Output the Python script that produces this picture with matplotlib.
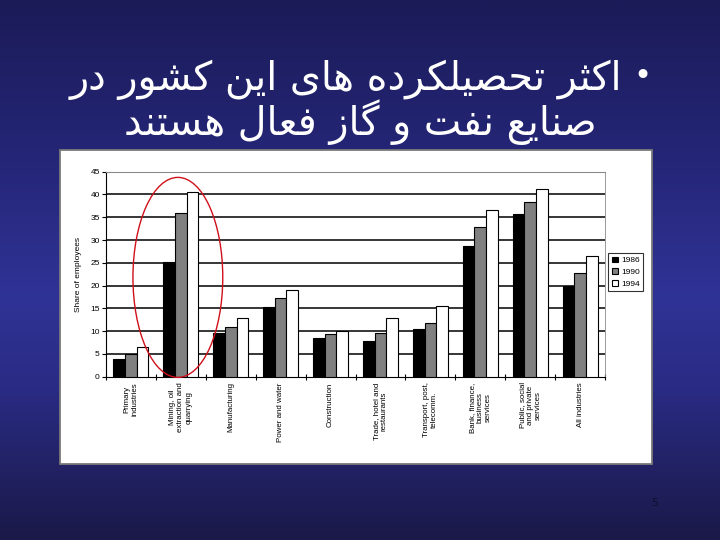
import numpy as np
import matplotlib.pyplot as plt
from matplotlib.patches import Rectangle, Ellipse

# داده‌ها
categories = [
    "Primary\nindustries",
    "Mining, oil\nextraction and\nquarrying",
    "Manufacturing",
    "Power and water",
    "Construction",
    "Trade, hotel and\nrestaurants",
    "Transport, post,\ntelecomm.",
    "Bank, finance,\nbusiness\nservices",
    "Public, social\nand private\nservices",
    "All industries",
]
years = ["1986", "1990", "1994"]
share_1986 = [3.9, 25.2, 9.5, 15.2, 8.6, 7.9, 10.4, 28.7, 35.7, 19.9]
share_1990 = [5.0, 36.0, 11.0, 17.2, 9.4, 9.7, 11.7, 32.9, 38.4, 22.7]
share_1994 = [6.5, 40.6, 12.8, 19.0, 10.0, 12.8, 15.6, 36.7, 41.3, 26.6]
yticks = [0, 5, 10, 15, 20, 25, 30, 35, 40, 45]

title_line1 = "اکثر تحصیلکرده های این کشور در"
title_line2 = "صنایع نفت و گاز فعال هستند"

# شکل‌دهی دستی حروف فارسی (matplotlib خودش اتصال حروف را انجام نمی‌دهد)
FORMS = {
    'ا': ('\uFE8D', '\uFE8E'),
    'ر': ('\uFEAD', '\uFEAE'),
    'د': ('\uFEA9', '\uFEAA'),
    'و': ('\uFEED', '\uFEEE'),
    'ز': ('\uFEAF', '\uFEB0'),
    'ک': ('\uFB8E', '\uFB8F', '\uFB90', '\uFB91'),
    'گ': ('\uFB92', '\uFB93', '\uFB94', '\uFB95'),
    'ی': ('\uFBFC', '\uFBFD', '\uFBFE', '\uFBFF'),
    'ث': ('\uFE99', '\uFE9A', '\uFE9B', '\uFE9C'),
    'ت': ('\uFE95', '\uFE96', '\uFE97', '\uFE98'),
    'ح': ('\uFEA1', '\uFEA2', '\uFEA3', '\uFEA4'),
    'ص': ('\uFEB9', '\uFEBA', '\uFEBB', '\uFEBC'),
    'ل': ('\uFEDD', '\uFEDE', '\uFEDF', '\uFEE0'),
    'ه': ('\uFEE9', '\uFEEA', '\uFEEB', '\uFEEC'),
    'ن': ('\uFEE5', '\uFEE6', '\uFEE7', '\uFEE8'),
    'ش': ('\uFEB5', '\uFEB6', '\uFEB7', '\uFEB8'),
    'ع': ('\uFEC9', '\uFECA', '\uFECB', '\uFECC'),
    'ف': ('\uFED1', '\uFED2', '\uFED3', '\uFED4'),
    'س': ('\uFEB1', '\uFEB2', '\uFEB3', '\uFEB4'),
}


def shape_fa(text):
    out = []
    for i, c in enumerate(text):
        if c not in FORMS:
            out.append(c)
            continue
        p = text[i - 1] if i > 0 else ''
        n = text[i + 1] if i + 1 < len(text) else ''
        join_prev = p in FORMS and len(FORMS[p]) == 4
        join_next = len(FORMS[c]) == 4 and n in FORMS
        f = FORMS[c]
        if join_prev and join_next:
            out.append(f[3])
        elif join_prev:
            out.append(f[1])
        elif join_next:
            out.append(f[2])
        else:
            out.append(f[0])
    return ''.join(out)[::-1]


W, H = 720, 540
fig = plt.figure(figsize=(7.2, 5.4), dpi=100)

# پس‌زمینه گرادیان آبی
bg = fig.add_axes([0, 0, 1, 1])
ys = np.linspace(0, 1, 300)
stops_y = [0.0, 0.30, 0.55, 0.72, 1.0]
stops_c = np.array([[0x1b, 0x1b, 0x58], [0x25, 0x26, 0x78], [0x30, 0x33, 0x96],
                    [0x2a, 0x2b, 0x84], [0x1a, 0x19, 0x48]]) / 255.0
grad = np.stack([np.interp(ys, stops_y, stops_c[:, k]) for k in range(3)], axis=-1)
bg.imshow(grad[:, None, :], aspect='auto', extent=[0, W, H, 0])
bg.set_xlim(0, W)
bg.set_ylim(H, 0)
bg.axis('off')

# جعبه سفید نمودار
bg.add_patch(Rectangle((60, 150), 592, 314, facecolor='white', edgecolor='#7a7a7a', lw=1.3))

# عنوان
bg.text(622, 80, shape_fa(title_line1), color='white', fontsize=28.5, ha='right', va='center',
        family='DejaVu Sans')
bg.text(360, 122, shape_fa(title_line2), color='white', fontsize=28.5, ha='center', va='center',
        family='DejaVu Sans')
bg.text(642, 76, "•", color='white', fontsize=22, ha='center', va='center')
bg.text(655, 503, "5", color='#101030', fontsize=8, ha='center', va='center')

# نمودار میله‌ای
ax = fig.add_axes([106 / W, 1 - 376.7 / H, 499 / W, 205 / H])
x = np.arange(len(categories))
bw = 0.234
kw = dict(edgecolor='black', linewidth=0.8, zorder=3)
ax.bar(x - bw, share_1986, bw, color='black', label=years[0], **kw)
ax.bar(x, share_1990, bw, color='#808080', label=years[1], **kw)
ax.bar(x + bw, share_1994, bw, color='white', label=years[2], **kw)

ax.set_xlim(-0.5, len(categories) - 0.5)
ax.set_ylim(0, 45)
ax.set_yticks(yticks)
ax.set_yticklabels([str(v) for v in yticks], fontsize=6, family='Liberation Sans')
for v in yticks[1:-1]:
    ax.axhline(v, color='black', lw=1.1, zorder=1)

ax.set_xticks(x)
ax.set_xticklabels(categories, rotation=90, fontsize=5.7, family='Liberation Sans',
                   multialignment='center')
ax.tick_params(axis='x', length=0, pad=4)
ax.set_xticks(np.arange(-0.5, len(categories)), minor=True)
ax.tick_params(axis='x', which='minor', length=4, direction='inout', width=0.8)
ax.tick_params(axis='y', length=3, width=0.8, pad=1.5)

ax.spines['left'].set_linewidth(0.8)
ax.spines['bottom'].set_linewidth(0.8)
ax.spines['top'].set_color('#8a8a8a')
ax.spines['right'].set_color('#8a8a8a')
ax.spines['top'].set_linewidth(0.8)
ax.spines['right'].set_linewidth(0.6)

ax.set_ylabel("Share of employees", fontsize=6, family='Liberation Sans', labelpad=6)

# بیضی قرمز دور گروه معدن
ax.add_patch(Ellipse((0.94, 21.8), 1.8, 43.9, fill=False, edgecolor='#d0101a', lw=1.0,
                     clip_on=False, zorder=4))

leg = ax.legend(loc='center left', bbox_to_anchor=(608 / W, 1 - 272 / H),
                bbox_transform=fig.transFigure, frameon=True, fancybox=False,
                fontsize=6, handlelength=0.7, handleheight=0.7, handletextpad=0.4,
                borderpad=0.45, labelspacing=0.45, borderaxespad=0)
leg.get_frame().set_edgecolor('black')
leg.get_frame().set_linewidth(0.8)
for t in leg.get_texts():
    t.set_family('Liberation Sans')

fig.savefig('out.png', dpi=100)
